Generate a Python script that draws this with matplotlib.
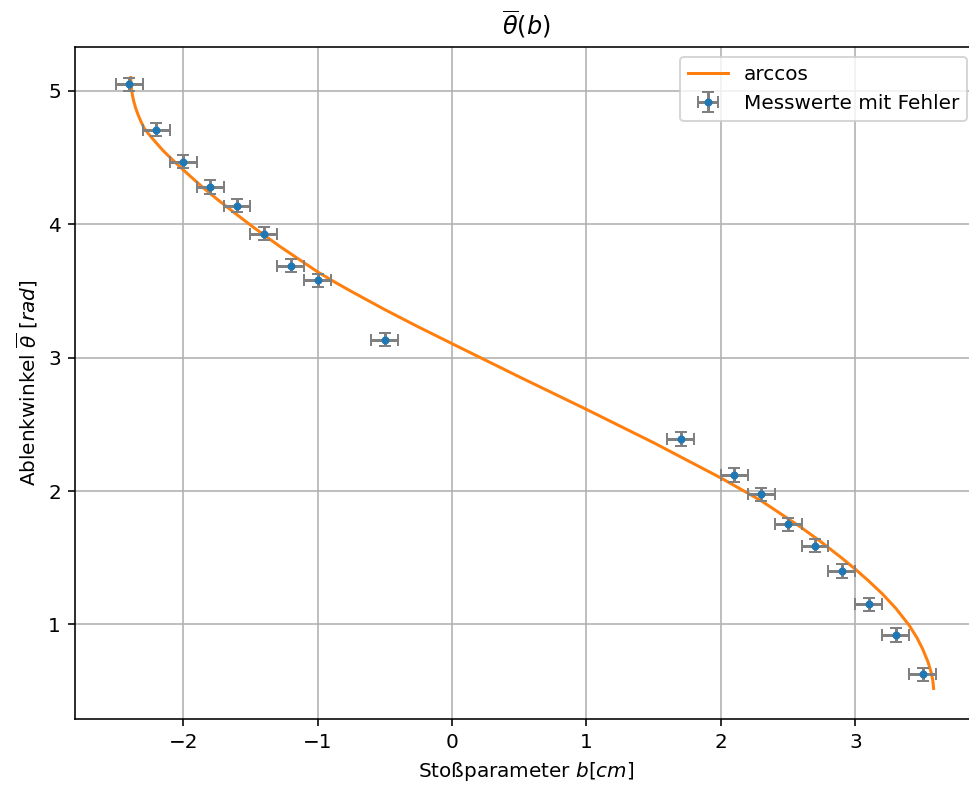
import numpy as np
import matplotlib
matplotlib.use("Agg")
import matplotlib.pyplot as plt

# ==============================================================================
# measured values (read off the reference)
b_mess = [-2.4, -2.2, -2.0, -1.8, -1.6, -1.4, -1.2, -1.0, -0.5,
          1.7, 2.1, 2.3, 2.5, 2.7, 2.9, 3.1, 3.3, 3.5]
theta_mess = [5.05, 4.71, 4.47, 4.28, 4.14, 3.93, 3.69, 3.58, 3.135,
              2.39, 2.12, 1.975, 1.75, 1.59, 1.40, 1.15, 0.92, 0.625]
b_err = [0.1] * len(b_mess)
theta_err = [0.05] * len(b_mess)

# arccos curve, points
b_fit = [-2.390, -2.388, -2.384, -2.378, -2.368, -2.354, -2.335, -2.310, -2.290,
         -2.260, -2.222, -2.148, -2.070, -2.000, -1.925, -1.850, -1.760, -1.675,
         -1.580, -1.477, -1.380, -1.284, -1.134, -1.000, -0.875, -0.750, -0.500,
         -0.250, 0.000, 0.500, 1.000, 1.500, 2.000, 2.300, 2.600, 2.750, 2.900,
         3.000, 3.100, 3.200, 3.300, 3.400, 3.460, 3.500, 3.540, 3.565, 3.576, 3.582]
theta_fit = [5.100, 5.046, 5.007, 4.969, 4.922, 4.872, 4.819, 4.761, 4.720,
             4.680, 4.635, 4.550, 4.474, 4.408, 4.340, 4.273, 4.198, 4.130,
             4.056, 3.977, 3.906, 3.836, 3.734, 3.643, 3.568, 3.497, 3.360,
             3.230, 3.105, 2.856, 2.612, 2.362, 2.098, 1.927, 1.725, 1.615, 1.497,
             1.414, 1.325, 1.230, 1.122, 0.994, 0.897, 0.817, 0.720, 0.637, 0.582, 0.520]

# ==============================================================================
fig = plt.figure(figsize=(969 / 144, 788 / 144), dpi=144)
# right spine lies just outside the saved picture, as in the reference
ax = fig.add_axes([75 / 969, 1 - 719 / 788, (977 - 75) / 969, (719 - 47) / 788])

ax.plot(b_fit, theta_fit, color="C1", label="arccos")
ax.errorbar(b_mess, theta_mess, xerr=b_err, yerr=theta_err, fmt=".",
            ecolor="grey", capsize=3, label="Messwerte mit Fehler")

ax.grid(True)
ax.set_title(r"$\overline{\theta}(b)$")
ax.set_xlabel(r"Stoßparameter $b[cm]$")
ax.set_ylabel(r"Ablenkwinkel $\overline{\theta}$ $[rad]$")
ax.legend(loc="upper right")

fig.savefig("out.png", dpi=144)
